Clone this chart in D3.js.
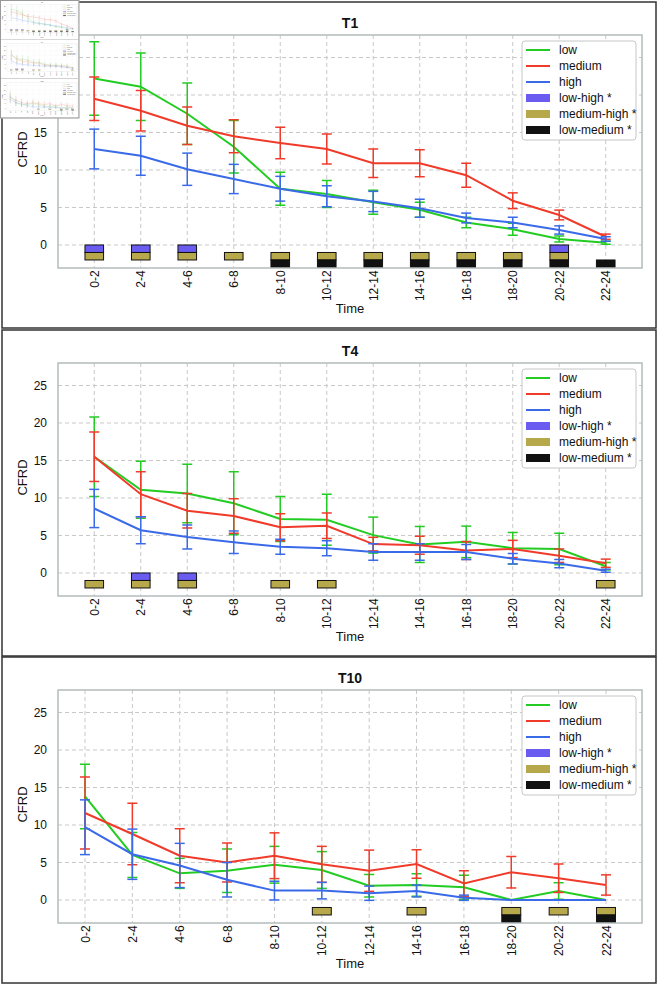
<!DOCTYPE html>
<html>
<head>
<meta charset="utf-8">
<script src="https://cdn.jsdelivr.net/npm/d3@7"></script>
<style>
  body { margin: 0; background: #fff; }
  svg { display: block; font-family: "Liberation Sans", Arial, sans-serif; }
</style>
</head>
<body>
<svg id="chart"></svg>
<script>
// categories
var times = ["0-2", "2-4", "4-6", "6-8", "8-10", "10-12", "12-14", "14-16", "16-18", "18-20", "20-22", "22-24"];
var yTicks = [0, 5, 10, 15, 20, 25];

// T1
var t1Low = [22.2, 21.1, 17.5, 13.1, 7.5, 6.8, 5.7, 4.7, 3.0, 2.1, 0.8, 0.3];
var t1LowErr = [4.9, 4.5, 4.1, 3.5, 2.2, 1.8, 1.6, 1.0, 0.7, 0.8, 0.4, 0.2];
var t1Medium = [19.5, 17.9, 15.9, 14.5, 13.6, 12.8, 10.9, 10.9, 9.3, 5.9, 4.0, 1.1];
var t1MediumErr = [2.9, 2.7, 2.5, 2.2, 2.1, 2.0, 1.9, 1.8, 1.6, 1.05, 0.65, 0.35];
var t1High = [12.8, 11.9, 10.1, 8.8, 7.5, 6.5, 5.8, 4.9, 3.6, 3.0, 2.0, 0.8];
var t1HighErr = [2.65, 2.6, 2.15, 1.95, 1.65, 1.4, 1.35, 1.2, 0.65, 0.7, 0.55, 0.3];
var t1LowHigh = ["0-2", "2-4", "4-6", "20-22"];
var t1MediumHigh = ["0-2", "2-4", "4-6", "6-8", "8-10", "10-12", "12-14", "14-16", "16-18", "18-20", "20-22"];
var t1LowMedium = ["8-10", "10-12", "12-14", "14-16", "16-18", "18-20", "20-22", "22-24"];

// T4
var t4Low = [15.5, 11.1, 10.6, 9.3, 7.2, 7.1, 5.05, 3.8, 4.15, 3.3, 3.2, 0.9];
var t4LowErr = [5.3, 3.8, 3.9, 4.2, 3.0, 3.4, 2.4, 2.4, 2.1, 2.1, 2.1, 0.5];
var t4Medium = [15.5, 10.5, 8.3, 7.6, 6.1, 6.3, 3.85, 3.7, 3.0, 3.2, 2.3, 1.3];
var t4MediumErr = [3.3, 3.0, 2.3, 2.3, 1.8, 1.7, 0.9, 1.2, 1.2, 1.15, 0.9, 0.55];
var t4High = [8.6, 5.7, 4.8, 4.1, 3.5, 3.3, 2.8, 2.8, 2.8, 1.9, 1.25, 0.3];
var t4HighErr = [2.55, 1.8, 1.6, 1.5, 1.0, 1.0, 1.1, 1.1, 1.0, 0.7, 0.55, 0.2];
var t4LowHigh = ["2-4", "4-6"];
var t4MediumHigh = ["0-2", "2-4", "4-6", "8-10", "10-12", "22-24"];
var t4LowMedium = [];

// T10
var t10Low = [13.8, 6.0, 3.55, 3.9, 4.7, 4.0, 1.9, 2.0, 1.7, 0.0, 1.2, 0.0];
var t10LowErr = [4.3, 3.0, 2.0, 2.9, 2.45, 2.45, 1.5, 1.5, 1.6, 0, 1.1, 0];
var t10Medium = [11.6, 8.8, 5.9, 5.0, 5.9, 4.75, 3.9, 4.8, 2.2, 3.7, 2.9, 2.0];
var t10MediumErr = [4.8, 4.1, 3.6, 2.6, 3.05, 2.4, 2.75, 1.9, 1.7, 2.1, 1.9, 1.35];
var t10High = [9.7, 6.1, 4.6, 2.7, 1.25, 1.25, 0.9, 1.2, 0.3, 0.0, 0.0, 0.0];
var t10HighErr = [3.65, 3.35, 2.95, 2.3, 1.25, 1.1, 0.95, 0.8, 0.35, 0, 0, 0];
var t10LowHigh = [];
var t10MediumHigh = ["10-12", "14-16", "18-20", "20-22", "22-24"];
var t10LowMedium = ["18-20", "22-24"];

var panels = [
  { title: "T1", top: 2, xlim: [-0.78, 11.78],
    series: [[t1Low, t1LowErr], [t1Medium, t1MediumErr], [t1High, t1HighErr]],
    sig: [t1LowHigh, t1MediumHigh, t1LowMedium] },
  { title: "T4", top: 330, xlim: [-0.78, 11.78],
    series: [[t4Low, t4LowErr], [t4Medium, t4MediumErr], [t4High, t4HighErr]],
    sig: [t4LowHigh, t4MediumHigh, t4LowMedium] },
  { title: "T10", top: 657, xlim: [-0.57, 11.76],
    series: [[t10Low, t10LowErr], [t10Medium, t10MediumErr], [t10High, t10HighErr]],
    sig: [t10LowHigh, t10MediumHigh, t10LowMedium] }
];

var lineNames = ["low", "medium", "high"];
var lineColors = ["#22cc22", "#f03a2a", "#3a6ae8"];
var sigNames = ["low-high *", "medium-high *", "low-medium *"];
var sigColors = ["#6a5cf0", "#b8a84c", "#111111"];
var sigRows = [[0, -1], [-1, -2], [-2, -3]];

var width = 659, height = 987;
var plotLeft = 58, plotRight = 642, plotOffset = 33, plotHeight = 233;

var svg = d3.select("#chart").attr("width", width).attr("height", height);
var fig = svg.append("g").attr("id", "fig");
fig.append("rect").attr("width", width).attr("height", height).attr("fill", "#fff");

panels.forEach(function (p, pi) {
  var g = fig.append("g");
  var top = p.top + plotOffset;
  var bottom = top + plotHeight;

  g.append("rect")
    .attr("x", 2).attr("y", p.top)
    .attr("width", 654).attr("height", 326)
    .attr("fill", "#fff").attr("stroke", "#333").attr("stroke-width", 1.5);

  var x = d3.scaleLinear().domain(p.xlim).range([plotLeft, plotRight]);
  var y = d3.scaleLinear().domain([-3.07, 28]).range([bottom, top]);

  // grid
  g.append("g").selectAll("line").data(times).enter().append("line")
    .attr("x1", function (d, i) { return x(i); })
    .attr("x2", function (d, i) { return x(i); })
    .attr("y1", top).attr("y2", bottom)
    .attr("stroke", "#c8c8c8").attr("stroke-dasharray", "4,3");
  g.append("g").selectAll("line").data(yTicks).enter().append("line")
    .attr("x1", plotLeft).attr("x2", plotRight)
    .attr("y1", function (d) { return y(d); })
    .attr("y2", function (d) { return y(d); })
    .attr("stroke", "#c8c8c8").attr("stroke-dasharray", "4,3");

  // y axis labels
  var yAxis = g.append("g")
    .attr("transform", "translate(" + plotLeft + ",0)")
    .call(d3.axisLeft(y).tickValues(yTicks).tickSize(0).tickPadding(11));
  yAxis.select(".domain").remove();
  yAxis.selectAll("text").style("font-size", "12px").attr("fill", "#111");

  // x axis labels
  var xAxis = g.append("g")
    .attr("transform", "translate(0," + bottom + ")")
    .call(d3.axisBottom(x).tickValues(d3.range(times.length)).tickSize(0)
      .tickFormat(function (i) { return times[i]; }));
  xAxis.select(".domain").remove();
  xAxis.selectAll("text")
    .style("font-size", "12px").attr("fill", "#111")
    .style("text-anchor", "end")
    .attr("transform", "rotate(-90)")
    .attr("dx", "-0.2em").attr("dy", "0.34em").attr("y", 0).attr("x", 0);

  // significance bars
  var clipId = "clip" + pi;
  g.append("clipPath").attr("id", clipId).append("rect")
    .attr("x", plotLeft).attr("y", top).attr("width", plotRight - plotLeft).attr("height", plotHeight);
  var bars = g.append("g").attr("clip-path", "url(#" + clipId + ")");
  p.sig.forEach(function (list, si) {
    bars.selectAll(".sig" + si).data(list).enter().append("rect")
      .attr("class", "sig" + si)
      .attr("x", function (d) { return x(times.indexOf(d) - 0.2); })
      .attr("width", x(0.4) - x(0))
      .attr("y", y(sigRows[si][0]))
      .attr("height", y(sigRows[si][1]) - y(sigRows[si][0]))
      .attr("fill", sigColors[si])
      .attr("stroke", "#111").attr("stroke-width", 1);
  });

  // lines + error bars
  var line = d3.line()
    .x(function (d, i) { return x(i); })
    .y(function (d) { return y(d); });
  p.series.forEach(function (s, k) {
    var vals = s[0], errs = s[1];
    var sg = g.append("g").attr("stroke", lineColors[k]).attr("fill", "none");
    sg.append("path").datum(vals).attr("d", line).attr("stroke-width", 2);
    vals.forEach(function (v, i) {
      if (errs[i] <= 0) return;
      var cx = x(i), y1 = y(v + errs[i]), y2 = y(v - errs[i]);
      sg.append("line").attr("x1", cx).attr("x2", cx).attr("y1", y1).attr("y2", y2).attr("stroke-width", 1.5);
      sg.append("line").attr("x1", cx - 5).attr("x2", cx + 5).attr("y1", y1).attr("y2", y1).attr("stroke-width", 1.5);
      sg.append("line").attr("x1", cx - 5).attr("x2", cx + 5).attr("y1", y2).attr("y2", y2).attr("stroke-width", 1.5);
    });
  });

  // frame
  g.append("rect")
    .attr("x", plotLeft).attr("y", top)
    .attr("width", plotRight - plotLeft).attr("height", plotHeight)
    .attr("fill", "none").attr("stroke", "#b4bcbc").attr("stroke-width", 1.5);

  // title and axis names
  g.append("text").attr("x", (plotLeft + plotRight) / 2).attr("y", p.top + 26)
    .attr("text-anchor", "middle").style("font-size", "14px").style("font-weight", "bold")
    .attr("fill", "#111").text(p.title);
  g.append("text").attr("x", (plotLeft + plotRight) / 2).attr("y", p.top + 311)
    .attr("text-anchor", "middle").style("font-size", "13px").attr("fill", "#111").text("Time");
  g.append("text")
    .attr("transform", "translate(27," + (top + plotHeight / 2 - 2) + ") rotate(-90)")
    .attr("text-anchor", "middle").style("font-size", "13px").attr("fill", "#111").text("CFRD");

  // legend
  var lg = g.append("g").attr("transform", "translate(522," + (top + 6) + ")");
  lg.append("rect").attr("width", 114).attr("height", 99).attr("rx", 3)
    .attr("fill", "#fff").attr("stroke", "#c4c8c8").attr("stroke-width", 1);
  lineNames.forEach(function (n, k) {
    var ry = 9 + k * 16;
    lg.append("line").attr("x1", 4).attr("x2", 28).attr("y1", ry).attr("y2", ry)
      .attr("stroke", lineColors[k]).attr("stroke-width", 2);
    lg.append("text").attr("x", 37).attr("y", ry + 4).style("font-size", "12px").attr("fill", "#111").text(n);
  });
  sigNames.forEach(function (n, k) {
    var ry = 9 + (k + 3) * 16;
    lg.append("rect").attr("x", 4).attr("y", ry - 4).attr("width", 24).attr("height", 8)
      .attr("fill", sigColors[k]);
    lg.append("text").attr("x", 37).attr("y", ry + 4).style("font-size", "12px").attr("fill", "#111").text(n);
  });
});

// small thumbnail of the whole figure in the top-left corner
var thumb = svg.append("g");
thumb.append("rect").attr("width", 79).attr("height", 118).attr("fill", "#fff");
thumb.append("use").attr("href", "#fig").attr("transform", "scale(0.12)").attr("opacity", 0.7);
thumb.append("rect").attr("x", 0.5).attr("y", 0.5).attr("width", 78.5).attr("height", 117.5)
  .attr("fill", "none").attr("stroke", "#999").attr("stroke-width", 1);
</script>
</body>
</html>
